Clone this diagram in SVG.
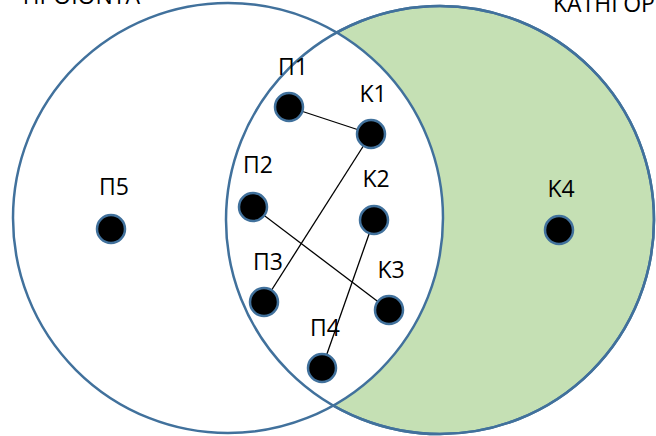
<svg xmlns="http://www.w3.org/2000/svg" width="656" height="436" viewBox="0 0 656 436">
<style>
.set{stroke:#41719C;stroke-width:2.5}
.node{fill:#000;stroke:#41719C;stroke-width:2.5}
.lbl{font-family:"Open Sans","Liberation Sans",sans-serif;font-size:23px;fill:#000;text-anchor:middle}
.ttl{font-family:"Open Sans","Liberation Sans",sans-serif;font-size:23px;fill:#000}
.edge{stroke:#000;stroke-width:1.3}
</style>
<rect width="656" height="436" fill="#fff"/>
<g id="sets">
<circle cx="440" cy="220" r="214" fill="#C5E0B4" class="set"/>
<circle cx="228" cy="218" r="215" fill="#fff" class="set"/>
<circle cx="440" cy="220" r="214" fill="none" class="set"/>
<text class="ttl" x="140" y="4" text-anchor="end">ΠΡΟΪΟΝΤΑ</text>
<text class="ttl" x="553" y="12">ΚΑΤΗΓΟΡΙΕΣ</text>
</g>
<g id="connectors">
<line class="edge" x1="289" y1="107" x2="371" y2="134"/>
<line class="edge" x1="371" y1="134" x2="264" y2="302"/>
<line class="edge" x1="253" y1="207" x2="389" y2="310"/>
<line class="edge" x1="374" y1="220" x2="322" y2="368"/>
</g>
<g id="P1"><circle class="node" cx="289" cy="107" r="14"/><text class="lbl" x="293" y="75">Π1</text></g>
<g id="K1"><circle class="node" cx="371" cy="134" r="14"/><text class="lbl" x="373" y="102">Κ1</text></g>
<g id="P2"><circle class="node" cx="253" cy="207" r="14"/><text class="lbl" x="258" y="173">Π2</text></g>
<g id="K2"><circle class="node" cx="374" cy="220" r="14"/><text class="lbl" x="376" y="187">Κ2</text></g>
<g id="P3"><circle class="node" cx="264" cy="302" r="14"/><text class="lbl" x="268" y="270">Π3</text></g>
<g id="K3"><circle class="node" cx="389" cy="310" r="14"/><text class="lbl" x="391" y="278">Κ3</text></g>
<g id="P4"><circle class="node" cx="322" cy="368" r="14"/><text class="lbl" x="325" y="336">Π4</text></g>
<g id="P5"><circle class="node" cx="111" cy="229" r="14"/><text class="lbl" x="114" y="195">Π5</text></g>
<g id="K4"><circle class="node" cx="559" cy="230" r="14"/><text class="lbl" x="561" y="197">Κ4</text></g>
</svg>
